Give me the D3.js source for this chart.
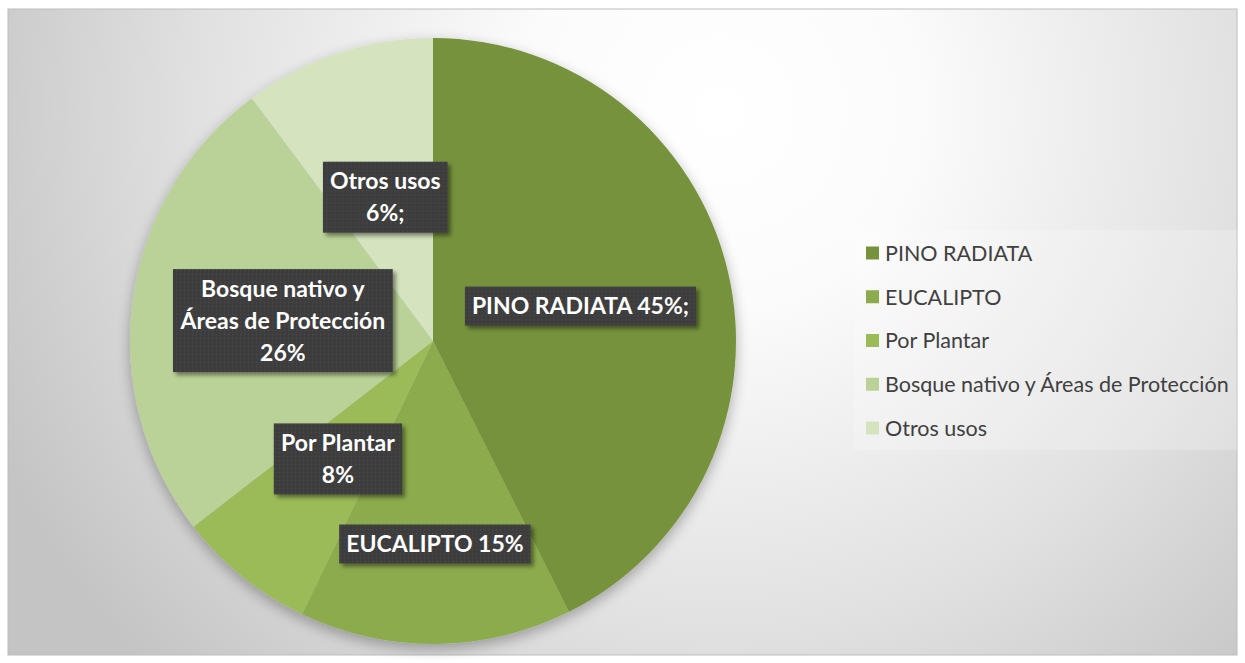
<!DOCTYPE html>
<html>
<head>
<meta charset="utf-8">
<script src="https://cdn.jsdelivr.net/npm/d3@7"></script>
<style>
html,body{margin:0;padding:0;background:#fff;}
svg{display:block;}
</style>
</head>
<body>
<svg id="chart" width="1245" height="663"></svg>
<script>
// ---- data ----
const categories = ["PINO RADIATA", "EUCALIPTO", "Por Plantar", "Bosque nativo y Áreas de Protección", "Otros usos"];
const values = [42.6, 14.5, 7.4, 25.3, 10.2];           // drawn slice shares
const labelTexts = [["PINO RADIATA 45%;"], ["EUCALIPTO 15%"], ["Por Plantar", "8%"], ["Bosque nativo y", "Áreas de Protección", "26%"], ["Otros usos", "6%;"]];
const colors = ["#76923c", "#8cab4e", "#9bbb59", "#bad197", "#d5e3bf"];

// ---- layout ----
const W = 1245, H = 663;
const svg = d3.select("#chart");
const defs = svg.append("defs");

const bg = defs.append("radialGradient").attr("id", "bg").attr("gradientUnits", "userSpaceOnUse")
  .attr("cx", 720).attr("cy", 110).attr("r", 800);
bg.append("stop").attr("offset", 0).attr("stop-color", "#ffffff");
bg.append("stop").attr("offset", 0.25).attr("stop-color", "#fbfbfb");
bg.append("stop").attr("offset", 0.65).attr("stop-color", "#e1e1e1");
bg.append("stop").attr("offset", 1).attr("stop-color", "#c4c4c4");

const sh = defs.append("filter").attr("id", "pieShadow").attr("x", "-20%").attr("y", "-20%").attr("width", "140%").attr("height", "140%");
sh.append("feGaussianBlur").attr("in", "SourceAlpha").attr("stdDeviation", 7);
sh.append("feOffset").attr("dx", 0).attr("dy", 5).attr("result", "b");
sh.append("feComponentTransfer").append("feFuncA").attr("type", "linear").attr("slope", 0.3);
const m1 = sh.append("feMerge");
m1.append("feMergeNode");
m1.append("feMergeNode").attr("in", "SourceGraphic");

const bsh = defs.append("filter").attr("id", "boxShadow").attr("x", "-10%").attr("y", "-20%").attr("width", "130%").attr("height", "160%");
bsh.append("feGaussianBlur").attr("in", "SourceAlpha").attr("stdDeviation", 2);
bsh.append("feOffset").attr("dx", 3).attr("dy", 3);
bsh.append("feComponentTransfer").append("feFuncA").attr("type", "linear").attr("slope", 0.45);
const m2 = bsh.append("feMerge");
m2.append("feMergeNode");
m2.append("feMergeNode").attr("in", "SourceGraphic");

const pat = defs.append("pattern").attr("id", "dots").attr("width", 4).attr("height", 4).attr("patternUnits", "userSpaceOnUse");
pat.append("rect").attr("width", 4).attr("height", 4).attr("fill", "#3d3d3d");
pat.append("rect").attr("x", 1).attr("y", 1).attr("width", 1.2).attr("height", 1.2).attr("fill", "#4b4b4b");

// chart area
svg.append("rect").attr("x", 8).attr("y", 9).attr("width", 1229).attr("height", 646)
  .attr("fill", "url(#bg)").attr("stroke", "#bdbdbd").attr("stroke-width", 1);

// pie
const cx = 433, cy = 341, R = 303;
const pie = d3.pie().sort(null).value(d => d)(values);
const arc = d3.arc().innerRadius(0).outerRadius(R);
const g = svg.append("g").attr("transform", `translate(${cx},${cy})`);
g.append("g").attr("filter", "url(#pieShadow)")
  .selectAll("path").data(pie).join("path")
  .attr("d", arc).attr("fill", (d, i) => colors[i]);

// data labels
const labelRadius = [0.5, 0.67, 0.5, 0.5, 0.5];
const lineH = 32, fs = 23;
pie.forEach((d, i) => {
  const a = (d.startAngle + d.endAngle) / 2;
  const r = R * labelRadius[i];
  const lx = Math.sin(a) * r, ly = -Math.cos(a) * r;
  const lines = labelTexts[i];
  const lg = g.append("g").attr("transform", `translate(${lx},${ly})`);
  const box = lg.append("rect").attr("fill", "url(#dots)").attr("filter", "url(#boxShadow)");
  const t = lg.append("text").attr("text-anchor", "middle")
    .attr("font-family", "Lato, 'Open Sans', sans-serif").attr("font-weight", "bold")
    .attr("font-size", fs).attr("fill", "#ffffff");
  lines.forEach((s, k) => {
    t.append("tspan").attr("x", 0).attr("y", (k - (lines.length - 1) / 2) * lineH).attr("dy", "0.36em").text(s);
  });
  const bb = t.node().getBBox();
  const bw = bb.width + 14, bh = lines.length * lineH + 7;
  box.attr("x", -bw / 2).attr("y", -bh / 2).attr("width", bw).attr("height", bh);
});

// legend
svg.append("rect").attr("x", 854).attr("y", 230).attr("width", 383).attr("height", 220)
  .attr("fill", "#ffffff").attr("fill-opacity", 0.22);
const legend = svg.append("g");
const rowY = d3.scalePoint().domain(categories).range([253, 428]);
const items = legend.selectAll("g").data(categories).join("g")
  .attr("transform", d => `translate(866,${rowY(d)})`);
items.append("rect").attr("x", 0).attr("y", -6.5).attr("width", 13).attr("height", 13)
  .attr("fill", (d, i) => colors[i]);
items.append("text").attr("x", 19).attr("y", 0).attr("dy", "0.36em")
  .attr("font-family", "Lato, 'Open Sans', sans-serif").attr("font-size", 21.5)
  .attr("fill", "#404040").text(d => d);
</script>
</body>
</html>
